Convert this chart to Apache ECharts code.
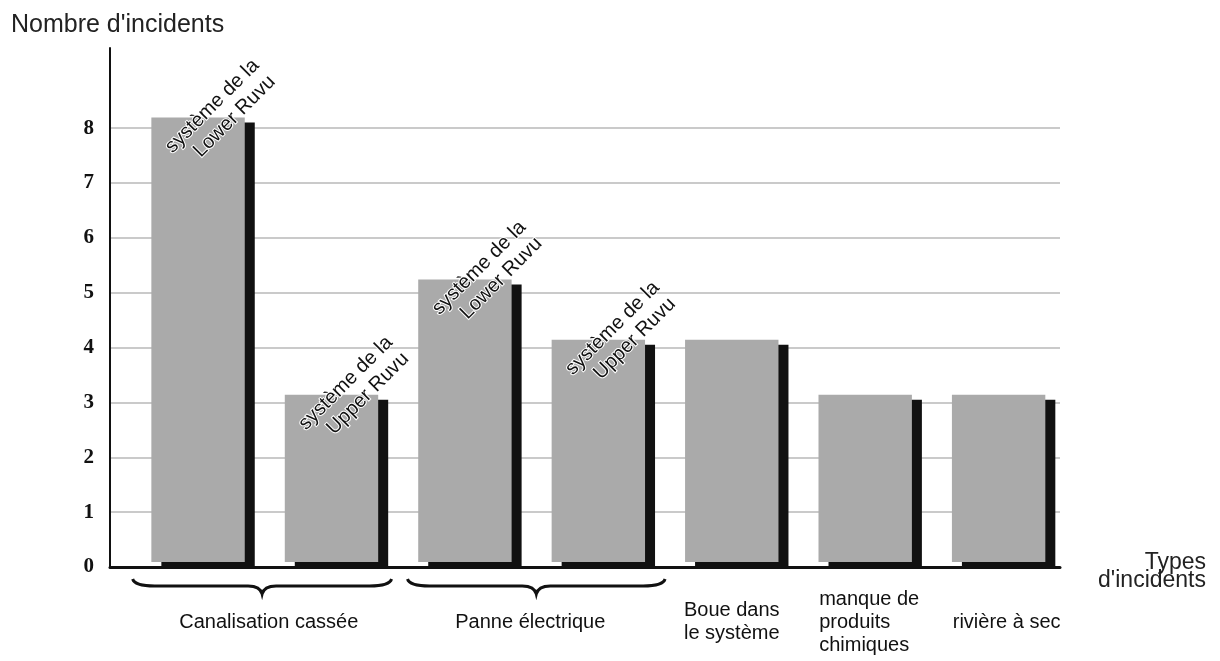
<!DOCTYPE html>
<html>
<head>
<meta charset="utf-8">
<script src="https://cdn.jsdelivr.net/npm/echarts@6/dist/echarts.min.js"></script>
<style>
  html, body { margin: 0; padding: 0; background: #fff; }
  #chart { width: 1220px; height: 661px; }
</style>
</head>
<body>
<div id="chart"></div>
<script>
// données
let incidents = [8.1, 3.05, 5.15, 4.05, 4.05, 3.05, 3.05];
let barNotes = ["système de la\nLower Ruvu", "système de la\nUpper Ruvu", "système de la\nLower Ruvu", "système de la\nUpper Ruvu", "", "", ""];
let groupLabels = ["Canalisation cassée", "Panne électrique", "Boue dans\nle système", "manque de\nproduits\nchimiques", "rivière à sec"];
let groupPos = [0.53, 2.49, 4.0, 5.03, 6.06];
let braceSpans = [[-0.49, 1.45], [1.57, 3.5]];

let sans = '"Liberation Sans", Arial, sans-serif';
let serif = '"Liberation Serif", "Times New Roman", serif';

let chart = echarts.init(document.getElementById("chart"));

function renderBar(params, api) {
	let top = api.coord([api.value(0), api.value(1)]);
	let base = api.coord([api.value(0), 0]);
	let w = api.size([1, 0])[0] * 0.7;
	let x0 = top[0] - w / 2;
	let h = base[1] - top[1];
	let kids = [
		// ombre noire décalée
		{ type: "rect", shape: { x: x0 + 10, y: top[1], width: w, height: h }, style: { fill: "#111" } },
		{ type: "rect", shape: { x: x0, y: top[1] - 5, width: w, height: h }, style: { fill: "#aaaaaa" } }
	];
	let note = barNotes[params.dataIndex];
	if (note) {
		kids.push({
			type: "text",
			x: top[0] + 66,
			y: top[1] - 52,
			rotation: Math.PI / 4,
			style: {
				text: note, fill: "#111", font: "20px " + sans,
				align: "right", verticalAlign: "middle", lineHeight: 23,
				stroke: "#fff", lineWidth: 2
			}
		});
	}
	return { type: "group", children: kids };
}

// accolade sous un groupe de barres
function renderBrace(params, api) {
	let a = api.coord([api.value(0), 0]);
	let b = api.coord([api.value(1), 0]);
	let x1 = a[0], x2 = b[0], xm = (x1 + x2) / 2, y0 = a[1] + 19;
	let d = "M" + x1 + " " + (y0 - 7) + " Q" + (x1 + 2) + " " + y0 + " " + (x1 + 22) + " " + y0 +
		" L" + (xm - 14) + " " + y0 + " Q" + (xm - 2) + " " + y0 + " " + xm + " " + (y0 + 8) +
		" Q" + (xm + 2) + " " + y0 + " " + (xm + 14) + " " + y0 +
		" L" + (x2 - 22) + " " + y0 + " Q" + (x2 - 2) + " " + y0 + " " + x2 + " " + (y0 - 7);
	return { type: "path", shape: { pathData: d }, style: { fill: "none", stroke: "#111", lineWidth: 3 } };
}

let gridColors = [];
for (let i = 0; i < 9; i++) gridColors.push("#b8b8b8");
gridColors.push("rgba(0,0,0,0)", "rgba(0,0,0,0)");

chart.setOption({
	animation: false,
	title: {
		text: "Nombre d'incidents", left: 6, top: 8,
		textStyle: { fontFamily: sans, fontSize: 25, fontWeight: "normal", color: "#222" }
	},
	grid: { left: 110, right: 160, top: 48, bottom: 94 },
	xAxis: {
		type: "value", min: -0.66, max: 6.46,
		splitLine: { show: false },
		axisTick: { show: false },
		axisLine: { lineStyle: { color: "#111", width: 3 } },
		axisLabel: {
			customValues: groupPos,
			margin: 55,
			verticalAlign: "middle",
			fontFamily: sans, fontSize: 20, lineHeight: 23, color: "#111",
			formatter: function (v) {
				let i = groupPos.indexOf(v);
				if (i < 0) return "";
				if (i === 3) return groupLabels[i].split("\n").map(s => "{l|" + s + "}").join("\n");
				return groupLabels[i];
			},
			rich: { l: { align: "left", fontFamily: sans, fontSize: 20, lineHeight: 23, color: "#111" } }
		}
	},
	yAxis: {
		type: "value", min: 0, max: 9.46, interval: 1,
		axisLine: { show: true, onZero: false, lineStyle: { color: "#111", width: 2 } },
		axisTick: { show: false },
		axisLabel: {
			margin: 16, fontFamily: serif, fontSize: 21, fontWeight: "bold", color: "#111",
			formatter: function (v) { return v <= 8 ? v : ""; }
		},
		splitLine: { lineStyle: { color: gridColors, width: 1.5 } }
	},
	graphic: [{
		type: "text", x: 1206, y: 554,
		style: { text: "Types\nd'incidents", font: "23px " + sans, fill: "#222", align: "right", verticalAlign: "top", lineHeight: 18 }
	}],
	series: [{
		type: "custom",
		renderItem: renderBar,
		data: incidents.map((v, i) => [i, v])
	}, {
		type: "custom",
		renderItem: renderBrace,
		data: braceSpans
	}]
});
</script>
</body>
</html>
